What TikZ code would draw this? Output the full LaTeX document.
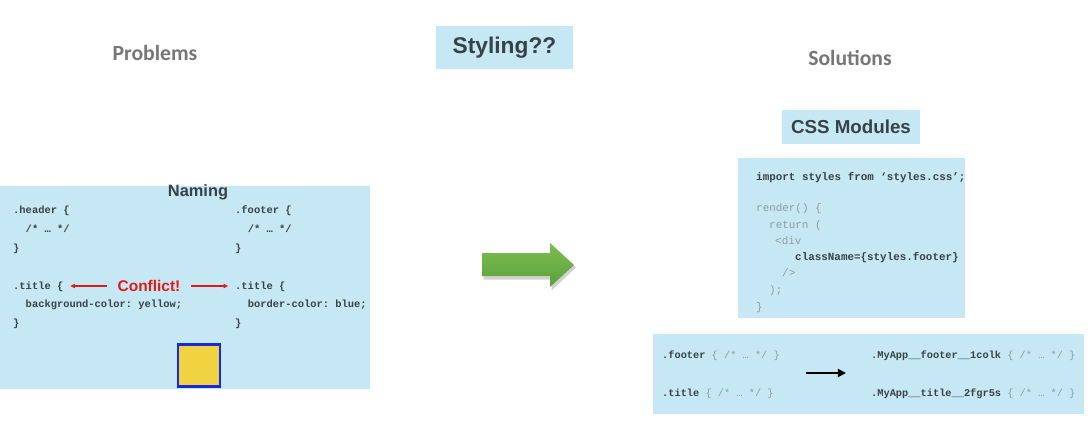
\documentclass[tikz,border=0pt]{standalone}
\usepackage{fontspec}
\setmainfont{Liberation Sans}
\setmonofont{Liberation Mono}
\newfontfamily\headfont{Carlito}
\usetikzlibrary{arrows.meta}
\definecolor{panelblue}{RGB}{198,232,245}
\definecolor{ink}{RGB}{54,66,72}
\definecolor{faint}{RGB}{138,156,163}
\definecolor{headgray}{RGB}{118,118,118}
\definecolor{alert}{RGB}{222,28,26}
\definecolor{swatchyellow}{RGB}{241,211,66}
\definecolor{swatchedge}{RGB}{22,40,228}
\definecolor{golight}{RGB}{124,190,82}
\definecolor{godark}{RGB}{92,160,58}
\tikzset{
  heading/.style={inner sep=0pt,text=headgray,font=\headfont\bfseries\fontsize{18.5}{20}\selectfont},
  titlebox/.style={fill=panelblue,inner sep=0pt,text=ink,font=\bfseries\fontsize{19.4}{22}\selectfont},
  code/.style={anchor=base west,inner sep=0pt,text=ink,font=\ttfamily\bfseries\fontsize{8.9}{10}\selectfont},
  jscode/.style={code,font=\ttfamily\bfseries\fontsize{9.3}{10}\selectfont},
  jsfaint/.style={jscode,text=faint,font=\ttfamily\fontsize{9.3}{10}\selectfont},
  mapcode/.style={code,font=\ttfamily\bfseries\fontsize{8.8}{10}\selectfont},
  redarrow/.style={draw=alert,line width=0.9pt,-{Triangle[length=4pt,width=3.6pt]}},
  maparrow/.style={draw=black,line width=1.6pt,-{Triangle[length=7pt,width=7pt]}}
}
\newcommand{\faintpart}[1]{{\color{faint}\mdseries #1}}
\begin{document}
\begin{tikzpicture}[x=0.03cm,y=-0.03cm]
  \useasboundingbox (0,0) rectangle (1088,444);
  \node[heading] (problems) at (155,53) {Problems};
  \node[heading] (solutions) at (850,58) {Solutions};
  \node[titlebox,minimum width=4.11cm,minimum height=1.29cm] (styling) at (504.5,47.5) {Styling??};
  \node[titlebox,minimum width=4.14cm,minimum height=1.02cm,font=\bfseries\fontsize{16}{18}\selectfont] (cssmod) at (851,127) {CSS Modules};
  \fill[panelblue] (0,186) rectangle (370,389);
  \node[inner sep=0pt,text=ink,font=\bfseries\fontsize{14}{16}\selectfont] (naming) at (198,192) {Naming};
  \node[code] (lheader) at (13,213.5) {.header \{};
  \node[code] (lbody) at (13,232) {\ \ /* … */};
  \node[code] (lclose) at (13,251) {\}};
  \node[code] (ltitle) at (13,289.5) {.title \{};
  \node[code] (lrule) at (13,307.5) {\ \ background-color: yellow;};
  \node[code] (lend) at (13,326.5) {\}};
  \node[code] (rfooter) at (235,213.5) {.footer \{};
  \node[code] (rbody) at (235,232) {\ \ /* … */};
  \node[code] (rclose) at (235,251) {\}};
  \node[code] (rtitle) at (235,289.5) {.title \{};
  \node[code] (rrule) at (235,307.5) {\ \ border-color: blue;};
  \node[code] (rend) at (235,326.5) {\}};
  \node[inner xsep=0.3cm,inner ysep=0pt,text=alert,font=\bfseries\fontsize{13.2}{14}\selectfont] (conflict) at (149,286) {Conflict!};
  \draw[redarrow,shorten >=0.2cm] (conflict.west) -- (conflict.west -| ltitle.east);
  \draw[redarrow,shorten >=0.2cm] (conflict.east) -- (conflict.east -| rtitle.west);
  \node[fill=swatchyellow,draw=swatchedge,line width=1.9pt,minimum size=1.26cm,inner sep=0pt] (swatch) at (199,365.5) {};
  \fill[black,opacity=0.18] (483.5,254.5) -- (551.5,254.5) -- (551.5,244.5) -- (576,267.5) -- (551.5,290.5) -- (551.5,279.5) -- (483.5,279.5) -- cycle;
  \shade[top color=golight,bottom color=godark] (482,253) -- (550,253) -- (550,243) -- (574,265) -- (550,287) -- (550,276) -- (482,276) -- cycle;
  \fill[panelblue] (738,158) rectangle (965,318);
  \node[jscode] (import) at (756,180.5) {import styles from ‘styles.css’;};
  \node[jsfaint] (render) at (756,211.5) {render() \{};
  \node[jsfaint] (return) at (769,228.5) {return (};
  \node[jsfaint] (divopen) at (775,244.5) {<div};
  \node[jscode] (classname) at (795,260.5) {className=\{styles.footer\}};
  \node[jsfaint] (divclose) at (782,276.5) {/>};
  \node[jsfaint] (paren) at (769,293.5) {);};
  \node[jsfaint] (brace) at (756,310.5) {\}};
  \fill[panelblue] (653,334) rectangle (1084,414);
  \node[mapcode] (srcfooter) at (662,358.5) {.footer \faintpart{\{ /* … */ \}}};
  \node[mapcode] (srctitle) at (662,396.5) {.title \faintpart{\{ /* … */ \}}};
  \node[mapcode] (dstfooter) at (871,358.5) {.MyApp\_\_footer\_\_1colk \faintpart{\{ /* … */ \}}};
  \node[mapcode] (dsttitle) at (871,396.5) {.MyApp\_\_title\_\_2fgr5s \faintpart{\{ /* … */ \}}};
  \coordinate (mapfrom) at (806,373);
  \coordinate (mapto) at (846,373);
  \draw[maparrow] (mapfrom) -- (mapto);
\end{tikzpicture}
\end{document}
